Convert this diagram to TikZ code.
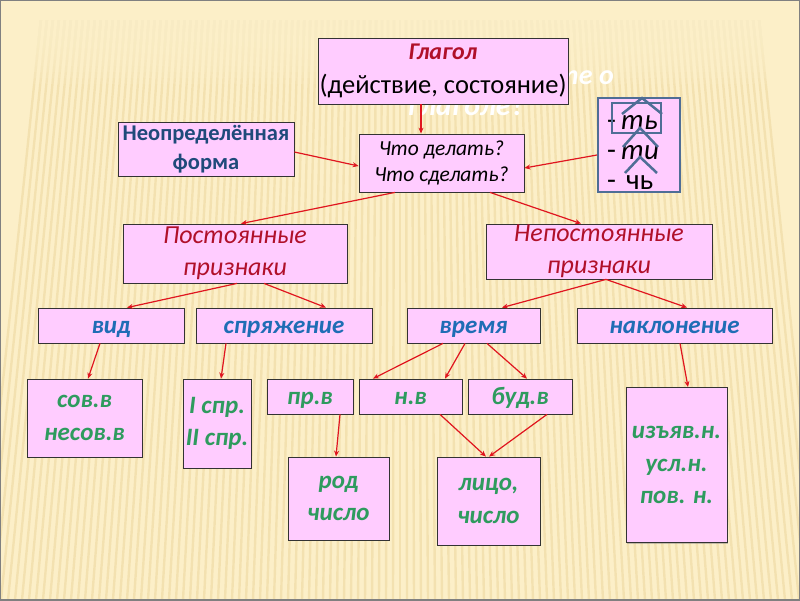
\documentclass[tikz,border=0pt]{standalone}
\usepackage{fontspec}
\setmainfont{Carlito}
\usetikzlibrary{arrows.meta,shadows}
\definecolor{fon}{HTML}{FCEFC8}
\definecolor{polosa}{HTML}{EBD49A}
\definecolor{rozov}{HTML}{FFCCFF}
\definecolor{krasn}{HTML}{B0102A}
\definecolor{sinij}{HTML}{1F6DB5}
\definecolor{temnosin}{HTML}{1F4A7A}
\definecolor{zelen}{HTML}{2E9B5E}
\definecolor{strelka}{HTML}{E0151F}
\definecolor{ramka}{HTML}{4F6E96}
\begin{document}
\begin{tikzpicture}[x=1pt,y=-1pt,
    kasten/.style={draw=black!80, line width=0.8pt, fill=rozov, inner sep=0pt, align=center,
      drop shadow={shadow xshift=1.2pt, shadow yshift=-1.2pt, opacity=0.45}},
    odna/.style={execute at begin node={\rule[-0.35em]{0pt}{1.35em}}},
    prizn/.style={kasten, odna, minimum height=35, text=sinij, font=\fontsize{25}{28}\selectfont\bfseries\itshape},
    znach/.style={kasten, text=zelen, font=\fontsize{25}{32.5}\selectfont\bfseries\itshape},
    pfeil/.style={draw=strelka, line width=1.2pt, -{Stealth[length=6pt,width=5pt]}},
    znak/.style={draw=ramka, line width=2.5pt}]

  \useasboundingbox (0,0) rectangle (800,600);
  \fill[fon] (0,0) rectangle (800,600);
  \begin{scope}
    \clip (0,20) rectangle (800,600);
    \foreach \i in {0,...,120}
      \draw[polosa, line width=2.4pt, opacity=0.5] ({400+(\i*7-20-400)*0.85},0) -- ({\i*7-20},600);
  \end{scope}
  \foreach \k in {0,...,9}
    \fill[fon, opacity=0.2] (0,0) rectangle (800,30+\k*6);
  \draw[black!50, line width=1.5pt] (0,0) rectangle (800,600);

  \node[text=white, font=\fontsize{28}{30}\selectfont\bfseries\itshape, anchor=base east, inner sep=0pt] (zagl1) at (614,84) {Что вы знаете о};
  \node[text=white, font=\fontsize{30}{32}\selectfont\bfseries\itshape, anchor=base, inner sep=0pt] (zagl2) at (466,115) {глаголе?};

  \node[kasten, minimum width=250, minimum height=66, font=\fontsize{26.5}{31}\selectfont] (glagol) at (443,71)
    {\textcolor{krasn}{\fontsize{24}{31}\selectfont\bfseries\itshape Глагол}\\[3pt](действие, состояние)};
  \node[kasten, minimum width=176, minimum height=54, text=temnosin, font=\fontsize{22.5}{29}\selectfont\bfseries] (neopr) at (206,149)
    {Неопределённая\\форма};
  \node[kasten, minimum width=165, minimum height=58, font=\fontsize{21.5}{26}\selectfont\itshape] (chto) at (441.5,163)
    {Что делать?\\Что сделать?};
  \node[kasten, draw=ramka, line width=2pt, minimum width=82, minimum height=94] (okonch) at (639,145) {};

  \node[kasten, minimum width=224, minimum height=59, text=krasn, font=\fontsize{26}{30}\selectfont\itshape] (post) at (235,253.5)
    {Постоянные\\[2pt]признаки};
  \node[kasten, minimum width=226, minimum height=55, text=krasn, font=\fontsize{26}{30}\selectfont\itshape] (nepost) at (599,251.5)
    {Непостоянные\\[2pt]признаки};

  \node[prizn, minimum width=146] (vid) at (111,325.5) {вид};
  \node[prizn, minimum width=176] (sprjazh) at (284,325.5) {спряжение};
  \node[prizn, minimum width=133] (vremja) at (473.5,325.5) {время};
  \node[prizn, minimum width=195] (naklon) at (674.5,325.5) {наклонение};

  \node[znach, minimum width=115, minimum height=78] (sov) at (84.5,418) {сов.в\\несов.в};
  \node[znach, minimum width=68, minimum height=89] (spr) at (217,423.5) {I спр.\\II спр.};
  \node[znach, odna, minimum width=86, minimum height=35] (prv) at (310,396.5) {пр.в};
  \node[znach, odna, minimum width=103, minimum height=35] (nv) at (410.5,396.5) {н.в};
  \node[znach, odna, minimum width=104, minimum height=35] (budv) at (520,396.5) {буд.в};
  \node[znach, minimum width=101, minimum height=83] (rod) at (338.5,498.5) {род\\число};
  \node[znach, minimum width=103, minimum height=88] (lico) at (488.5,501) {лицо,\\число};
  \node[znach, minimum width=101, minimum height=155] (izjav) at (676.5,465) {изъяв.н.\\усл.н.\\пов. н.};

  \draw[pfeil] ([xshift=-22pt]glagol.south) -- ([xshift=-20.5pt]chto.north);
  \draw[pfeil] ([yshift=-3pt]neopr.east) -- ([yshift=-3pt]chto.west);
  \draw[pfeil] ([yshift=-10pt]okonch.west) -- ([yshift=-5pt]chto.east);
  \draw[pfeil] ([xshift=-46.5pt]chto.south) -- ([xshift=6pt]post.north);
  \draw[pfeil] ([xshift=48.5pt]chto.south) -- ([xshift=-18pt]nepost.north);
  \draw[pfeil] ([xshift=2pt]post.south) -- ([xshift=16pt]vid.north);
  \draw[pfeil] ([xshift=29pt]post.south) -- ([xshift=42pt]sprjazh.north);
  \draw[pfeil] ([xshift=7pt]nepost.south) -- ([xshift=28.5pt]vremja.north);
  \draw[pfeil] ([xshift=7pt]nepost.south) -- ([xshift=12.5pt]naklon.north);
  \draw[pfeil] ([xshift=-11pt]vid.south) -- ([xshift=3.5pt]sov.north);
  \draw[pfeil] ([xshift=-58pt]sprjazh.south) -- ([xshift=4pt]spr.north);
  \draw[pfeil] ([xshift=-30.5pt]vremja.south) -- ([xshift=-37.5pt]nv.north);
  \draw[pfeil] ([xshift=-8.5pt]vremja.south) -- ([xshift=34.5pt]nv.north);
  \draw[pfeil] ([xshift=13.5pt]vremja.south) -- ([xshift=7pt]budv.north);
  \draw[pfeil] ([xshift=30pt]prv.south) -- ([xshift=-2.5pt]rod.north);
  \draw[pfeil] ([xshift=29.5pt]nv.south) -- ([xshift=-2.5pt]lico.north);
  \draw[pfeil] ([xshift=27pt]budv.south) -- ([xshift=0.5pt]lico.north);
  \draw[pfeil] ([xshift=5.5pt]naklon.south) -- ([xshift=11.5pt]izjav.north);

  \node[anchor=west, font=\fontsize{29}{30}\selectfont, inner sep=0pt] (ok1) at (607,122) {-\hspace{5pt}\itshape ть};
  \node[anchor=west, font=\fontsize{29}{30}\selectfont, inner sep=0pt] (ok2) at (607,153) {-\hspace{5pt}\itshape ти};
  \node[anchor=west, font=\fontsize{29}{30}\selectfont, inner sep=0pt] (ok3) at (607,183) {-\hspace{10pt}чь};
  \draw[znak] (612,103) rectangle (661,133);
  \draw[znak] (622,114) -- (642,98) -- (662,114);
  \draw[znak] (623,147) -- (640,128) -- (658,147);
  \draw[znak] (625,173) -- (640,157) -- (657,173);
\end{tikzpicture}
\end{document}
